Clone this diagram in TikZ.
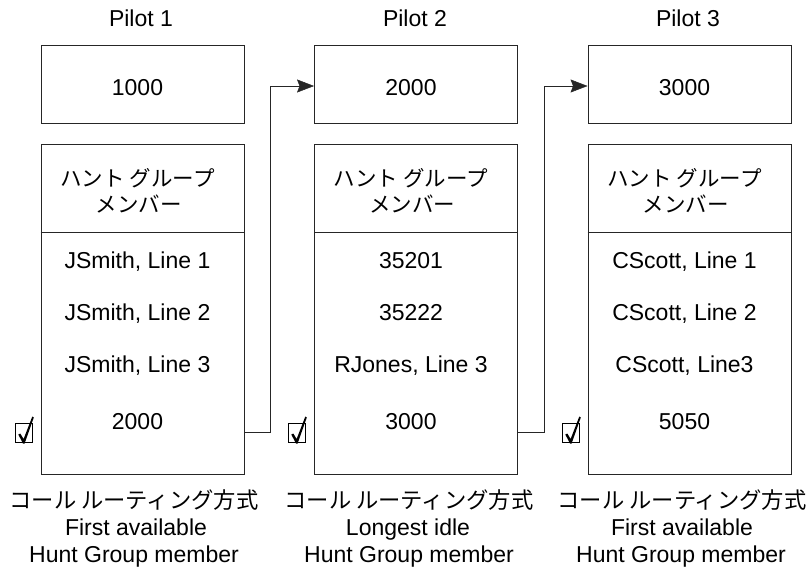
\documentclass[tikz,border=0pt]{standalone}
\usepackage{fontspec}
\setmainfont{Liberation Sans}
\newfontfamily\jpfont{Noto Sans CJK JP}
\usetikzlibrary{arrows.meta}
\begin{document}
\begin{tikzpicture}[x=1pt,y=-1pt,
  box/.style={draw=black!85, line width=0.9pt, minimum width=203pt, inner sep=0pt},
  txt/.style={font=\fontsize{23}{27}\selectfont, inner sep=0pt, anchor=base},
  jtxt/.style={font=\jpfont\fontsize{21.5}{26}\selectfont, inner sep=0pt},
  jcap/.style={font=\jpfont\fontsize{22.3}{26}\selectfont, inner sep=0pt},
  conn/.style={draw=black!85, line width=0.9pt, -{Stealth[length=17pt,width=13pt,inset=2.5pt,line width=0.5pt]}},
  chk/.pic={
    \draw[line width=0.9pt] (0,0) rectangle (17,19);
    \fill (3.3,11.5) -- (5.3,10.5) -- (8.6,16) -- (17.3,-6.5) -- (18.8,-5.5) -- (9.6,20.5) -- (8,20.5) -- cycle;
  }]
\useasboundingbox (0,0) rectangle (808,570);

% ---------- Pilot 1 ----------
\node[txt] (p1) at (141,27) {Pilot 1};
\node[box, minimum height=78pt] (top1) at (142.5,84) {};
\node[txt] (t1) at (137.5,95) {1000};
\node[box, minimum height=330pt] (mem1) at (142.5,309) {};
\draw[draw=black!85, line width=0.9pt] ([yshift=-89pt]mem1.north west) -- ([yshift=-89pt]mem1.north east);
\node[jtxt] (h1a) at (137.5,178) {ハント グループ};
\node[jtxt] (h1b) at (138.5,204) {メンバー};
\node[txt] (r11) at (137.5,268) {JSmith, Line 1};
\node[txt] (r12) at (137.5,320) {JSmith, Line 2};
\node[txt] (r13) at (137.5,372) {JSmith, Line 3};
\node[txt] (r14) at (137.5,429) {2000};
\pic at (15,423) {chk};
\node[jcap] (c1a) at (134,500) {コール ルーティング方式};
\node[txt] (c1b) at (136,535) {First available};
\node[txt] (c1c) at (134,562) {Hunt Group member};

% ---------- Pilot 2 ----------
\node[txt] (p2) at (415,27) {Pilot 2};
\node[box, minimum height=78pt] (top2) at (416,84) {};
\node[txt] (t2) at (411,95) {2000};
\node[box, minimum height=330pt] (mem2) at (416,309) {};
\draw[draw=black!85, line width=0.9pt] ([yshift=-89pt]mem2.north west) -- ([yshift=-89pt]mem2.north east);
\node[jtxt] (h2a) at (411,178) {ハント グループ};
\node[jtxt] (h2b) at (412,204) {メンバー};
\node[txt] (r21) at (411,268) {35201};
\node[txt] (r22) at (411,320) {35222};
\node[txt] (r23) at (411,372) {RJones, Line 3};
\node[txt] (r24) at (411,429) {3000};
\pic at (288,423) {chk};
\node[jcap] (c2a) at (409,500) {コール ルーティング方式};
\node[txt] (c2b) at (408,535) {Longest idle};
\node[txt] (c2c) at (409,562) {Hunt Group member};

% ---------- Pilot 3 ----------
\node[txt] (p3) at (688,27) {Pilot 3};
\node[box, minimum height=78pt] (top3) at (689.5,84) {};
\node[txt] (t3) at (684.5,95) {3000};
\node[box, minimum height=330pt] (mem3) at (689.5,309) {};
\draw[draw=black!85, line width=0.9pt] ([yshift=-89pt]mem3.north west) -- ([yshift=-89pt]mem3.north east);
\node[jtxt] (h3a) at (684.5,178) {ハント グループ};
\node[jtxt] (h3b) at (685.5,204) {メンバー};
\node[txt] (r31) at (684.5,268) {CScott, Line 1};
\node[txt] (r32) at (684.5,320) {CScott, Line 2};
\node[txt] (r33) at (684.5,372) {CScott, Line3};
\node[txt] (r34) at (684.5,429) {5050};
\pic at (562,423) {chk};
\node[jcap] (c3a) at (682,500) {コール ルーティング方式};
\node[txt] (c3b) at (682,535) {First available};
\node[txt] (c3c) at (681,562) {Hunt Group member};

% ---------- connectors ----------
\draw[conn] ([yshift=-123pt]mem1.east) -- ++(26,0) |- ([yshift=-2pt]top2.west);
\draw[conn] ([yshift=-123pt]mem2.east) -- ++(26,0) |- ([yshift=-2pt]top3.west);
\end{tikzpicture}
\end{document}
